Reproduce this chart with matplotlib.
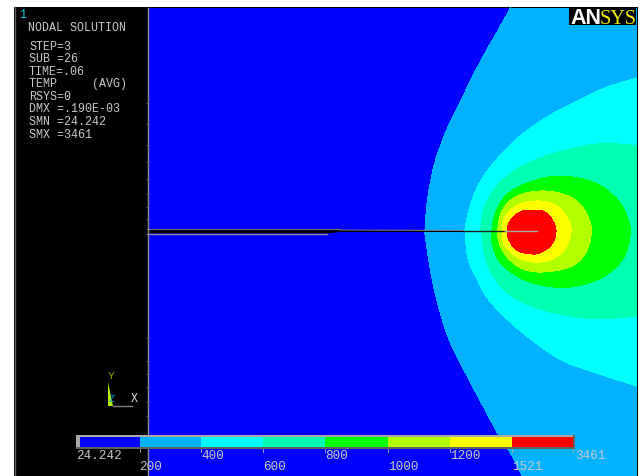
import matplotlib.pyplot as plt
from matplotlib.patches import PathPatch, Rectangle
from matplotlib.path import Path

# ==========================================================
# Data (all read from the picture, image pixel coordinates)
# ==========================================================

band_colors = ["#0000ff", "#00b2ff", "#00ffff", "#00ffb2",
               "#00ff00", "#b2ff00", "#ffff00", "#ff0000"]

bar_edges = [79.5, 139.5, 201, 263, 325, 388, 450, 512, 573]
bar_labels_upper = ["24.242", "400", "800", "1200", "3461"]
bar_labels_lower = ["200", "600", "1000", "1521"]

info_lines = ["STEP=3", "SUB =26", "TIME=.06", "TEMP     (AVG)",
              "RSYS=0", "DMX =.190E-03", "SMN =24.242", "SMX =3461"]

level_200_x = [511, 497, 480, 463, 447, 435, 428, 425, 426, 432, 440, 450, 467, 483, 498, 512, 522]
level_200_y = [8, 33, 63, 97, 130, 163, 197, 230, 243, 280, 313, 343, 377, 407, 435, 457, 477]

level_400_x = [637, 607, 577, 547, 520, 497, 480, 470, 465, 465, 468, 477, 488, 510, 537, 563, 593, 637]
level_400_y = [79, 88, 102, 118, 137, 160, 183, 207, 230, 233, 260, 280, 300, 323, 345, 362, 373, 387]

level_600_x = [637, 620, 597, 570, 543, 517, 497, 485, 481, 482, 485, 495, 513, 540, 570, 600, 637]
level_600_y = [147, 145, 145, 150, 158, 170, 187, 207, 227, 237, 258, 280, 298, 310, 317, 320, 317]

level_800_x = [560, 593, 617, 628, 630, 623, 603, 577, 553, 527, 503, 493, 492, 497, 510, 533]
level_800_y = [177, 183, 200, 220, 237, 260, 278, 287, 288, 282, 267, 248, 230, 210, 193, 182]

level_1000_x = [540, 563, 580, 590, 591, 585, 570, 543, 523, 507, 499, 498, 503, 517]
level_1000_y = [192, 195, 205, 223, 237, 255, 268, 273, 270, 258, 243, 228, 210, 197]

level_1200_x = [540, 557, 568, 571, 565, 550, 533, 517, 505, 502, 505, 520]
level_1200_y = [202, 207, 220, 233, 250, 261, 263, 258, 247, 233, 217, 205]

level_1521_x = [532, 545, 553, 556, 552, 542, 532, 518, 510, 507, 510, 520]
level_1521_y = [211, 213, 222, 233, 245, 253, 255, 252, 243, 233, 222, 213]

tick_y = [104, 125, 146, 163, 180, 195, 208, 220, 339, 362, 375, 388, 403, 417]

# ==========================================================
# Helpers
# ==========================================================


def curve_path(xs, ys, closed=False, corners=()):
    pts = list(zip(xs, ys))
    n = len(pts)
    verts = [pts[0]]
    codes = [Path.MOVETO]
    stop = n if closed else n - 1
    for i in range(stop):
        if closed:
            p0, p1, p2, p3 = pts[i - 1], pts[i], pts[(i + 1) % n], pts[(i + 2) % n]
        else:
            p0, p1, p2, p3 = pts[max(i - 1, 0)], pts[i], pts[i + 1], pts[min(i + 2, n - 1)]
        c1 = (p1[0] + (p2[0] - p0[0]) / 6, p1[1] + (p2[1] - p0[1]) / 6)
        c2 = (p2[0] - (p3[0] - p1[0]) / 6, p2[1] - (p3[1] - p1[1]) / 6)
        verts += [c1, c2, p2]
        codes += [Path.CURVE4] * 3
    for c in corners:
        verts.append(c)
        codes.append(Path.LINETO)
    verts.append(pts[0])
    codes.append(Path.CLOSEPOLY)
    return Path(verts, codes)


def band(ax, path, color):
    ax.add_patch(PathPatch(path, facecolor=color, edgecolor="none",
                           antialiased=False, zorder=2))


def mono(ax, x, y, s, color="#c8c8c8", size=8.4, **kw):
    ax.text(x, y, s, color=color, fontsize=size, family="Liberation Mono",
            va="center", zorder=8, **kw)


# ==========================================================
# Figure
# ==========================================================

fig = plt.figure(figsize=(6.43, 4.77), dpi=100, facecolor="white")
ax = fig.add_axes([0, 0, 1, 1])
ax.set_xlim(0, 643)
ax.set_ylim(477, 0)
ax.axis("off")

# ==========================================================
# Panel and contour bands
# ==========================================================

ax.add_patch(Rectangle((14, 8), 625 - 1, 469, facecolor="black", edgecolor="none", zorder=1))
ax.add_patch(Rectangle((148, 9), 489, 468, facecolor=band_colors[0], edgecolor="none",
                       antialiased=False, zorder=1.5))

band(ax, curve_path(level_200_x, level_200_y, corners=[(637, 477), (637, 9), (511, 9)]), band_colors[1])
band(ax, curve_path(level_400_x, level_400_y), band_colors[2])
band(ax, curve_path(level_600_x, level_600_y), band_colors[3])
band(ax, curve_path(level_800_x, level_800_y, closed=True), band_colors[4])
band(ax, curve_path(level_1000_x, level_1000_y, closed=True), band_colors[5])
band(ax, curve_path(level_1200_x, level_1200_y, closed=True), band_colors[6])
band(ax, curve_path(level_1521_x, level_1521_y, closed=True), band_colors[7])

# ==========================================================
# Crack and model edge
# ==========================================================

ax.fill([147, 340, 340, 463, 463, 340, 327, 147],
        [230, 230, 231, 231.5, 233, 233, 234.5, 234.5],
        color="black", lw=0, zorder=4)
ax.plot([147, 340], [230, 230], color="#707070", lw=0.8, zorder=5)
ax.plot([147, 327], [234.5, 234.5], color="#909090", lw=1, zorder=5)
ax.plot([340, 463], [231, 231.5], color="#808080", lw=0.7, zorder=5)
ax.plot([463, 505], [232.2, 232.2], color="#202020", lw=1, zorder=5)
ax.plot([505, 537], [232.2, 232.2], color="#a8a8a8", lw=1, zorder=5)
ax.plot([147.5, 147.5], [9, 477], color="#909090", lw=1, zorder=5)
ax.plot([14.5, 14.5], [8, 477], color="#606060", lw=1, zorder=5)
for y in tick_y:
    ax.plot([146, 149], [y, y], color="#606060", lw=0.5, zorder=5)

# ==========================================================
# Text block
# ==========================================================

mono(ax, 19, 15, "1", color="#00d0d0", size=8.4)
mono(ax, 28, 28, "NODAL SOLUTION")
for i, line in enumerate(info_lines):
    mono(ax, 29, 46.5 + i * 12.6, line)

# ==========================================================
# Colour bar
# ==========================================================

ax.add_patch(Rectangle((76, 436), 499, 14, facecolor="#a8a8a8", edgecolor="none", zorder=6))
ax.add_patch(Rectangle((76, 447.5), 499, 2.5, facecolor="#606060", edgecolor="none", zorder=6.1))
ax.add_patch(Rectangle((572.5, 436), 2.5, 14, facecolor="#606060", edgecolor="none", zorder=6.1))
for i, color in enumerate(band_colors):
    ax.add_patch(Rectangle((bar_edges[i], 438), bar_edges[i + 1] - bar_edges[i], 9.5,
                           facecolor=color, edgecolor="none", antialiased=False, zorder=6.2))
for x in bar_edges[1:]:
    ax.plot([x, x], [450, 453], color="#b0b0b0", lw=0.6, zorder=6)

upper_x = [76, 201, 325, 450, 575]
lower_x = [139.5, 263, 388, 512]
for x, s in zip(upper_x, bar_labels_upper):
    mono(ax, x, 456, s, size=9.1)
for x, s in zip(lower_x, bar_labels_lower):
    mono(ax, x, 467, s, size=9.1)

# ==========================================================
# Triad
# ==========================================================

ax.fill([108, 108, 113], [383, 407, 407], color="#b2f000", lw=0, zorder=6)
ax.plot([113, 132], [406.5, 406.5], color="#808080", lw=1, zorder=6)
mono(ax, 108, 376, "Y", color="#a0a000", size=8)
mono(ax, 131, 399, "X", color="#d8d8d8", size=8.4)
mono(ax, 109, 399, "Z", color="#00a0e0", size=7)

# ==========================================================
# Logo
# ==========================================================

ax.add_patch(Rectangle((569, 9), 67, 16.5, facecolor="black", edgecolor="none", zorder=7))
ax.text(570, 24.5, "AN", color="white", fontsize=15.5, family="Liberation Sans",
        weight="bold", va="baseline", zorder=8)
ax.text(600, 24.5, "SYS", color="#f0f000", fontsize=14.5, family="Liberation Serif",
        va="baseline", zorder=8)

fig.savefig("out.png", dpi=100, facecolor="white")
plt.close(fig)
